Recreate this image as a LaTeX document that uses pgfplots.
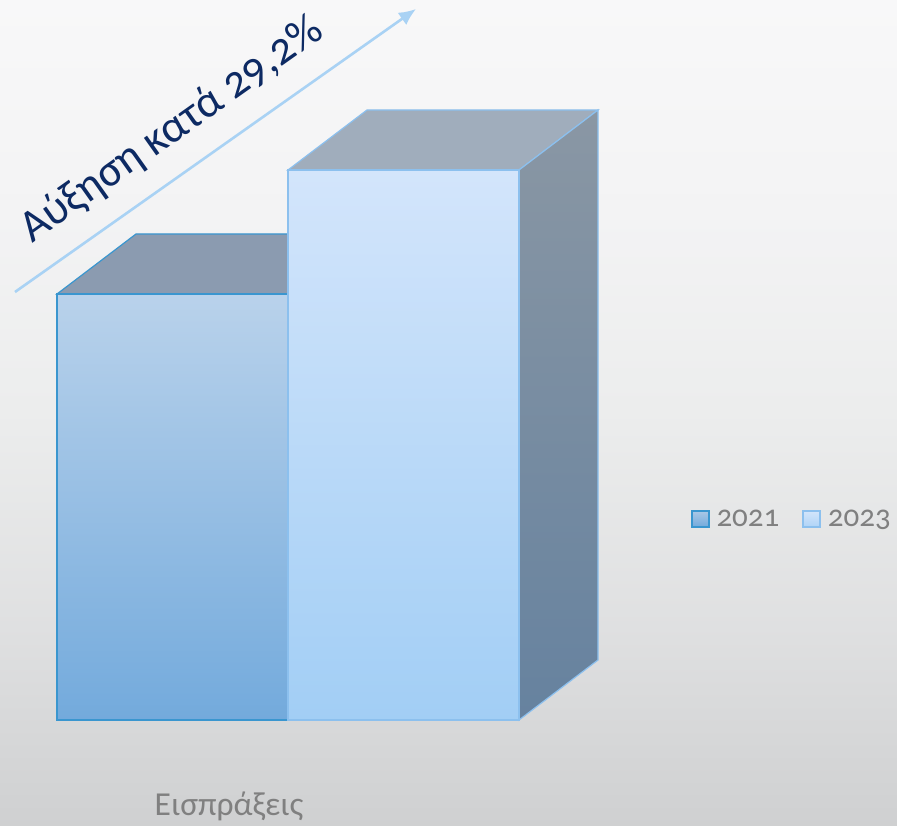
\documentclass[border=0pt]{standalone}
\usepackage{fontspec}
\setmainfont[Numbers=OldStyle]{Carlito}
\usepackage{pgfplots}
\pgfplotsset{compat=1.18}
\usetikzlibrary{arrows.meta}
\definecolor{edgeA}{HTML}{3A96CF}
\definecolor{edgeB}{HTML}{8CC0EE}
\definecolor{txtgrey}{HTML}{808080}
\definecolor{navy}{HTML}{0D2A63}
\definecolor{arrowblue}{HTML}{A9D2F4}
\pgfdeclareverticalshading{bgshade}{100bp}{
  rgb(0bp)=(0.812,0.816,0.820);
  rgb(25bp)=(0.812,0.816,0.820);
  rgb(37bp)=(0.875,0.878,0.882);
  rgb(50bp)=(0.925,0.929,0.929);
  rgb(62bp)=(0.953,0.953,0.957);
  rgb(75bp)=(0.973,0.973,0.976);
  rgb(100bp)=(0.973,0.973,0.976)}
\begin{document}
\begin{tikzpicture}
\begin{axis}[
  hide axis, scale only axis, width=897pt, height=825pt,
  xmin=0, xmax=897, ymin=-105, ymax=720, clip=false,
  legend columns=2,
  legend style={at={(axis cs:691,201)}, anchor=west, draw=none, fill=none,
    font=\fontsize{31}{33}\selectfont\color{txtgrey},
    /tikz/every even column/.append style={column sep=21pt},
    /tikz/every odd column/.append style={column sep=5pt},
    inner sep=0pt, outer sep=0pt},
  legend cell align=left,
]
% background
\path[shading=bgshade] (axis cs:0,-105) rectangle (axis cs:897,720);

% 2021 bar: value 426, 2023 bar: value 550 (pixel units above baseline)
\addplot[forget plot, draw=edgeA, line width=1.2pt, fill={rgb,255:red,139;green,155;blue,176}]
  coordinates {(57,426) (136,486) (320,486) (288,426)} -- cycle;
\addplot[forget plot, draw=edgeA, line width=1.6pt, top color={rgb,255:red,185;green,210;blue,235},
  bottom color={rgb,255:red,115;green,170;blue,220}]
  coordinates {(57,0) (57,426) (288,426) (288,0)} -- cycle;

\addplot[forget plot, draw=edgeB, line width=1.2pt, fill={rgb,255:red,160;green,173;blue,188}]
  coordinates {(288,550) (367,610) (598,610) (519,550)} -- cycle;
\addplot[forget plot, draw=edgeB, line width=1.2pt, top color={rgb,255:red,138;green,151;blue,164},
  bottom color={rgb,255:red,102;green,130;blue,159}]
  coordinates {(519,0) (519,550) (598,610) (598,60)} -- cycle;
\addplot[forget plot, draw=edgeB, line width=1.6pt, top color={rgb,255:red,211;green,229;blue,251},
  bottom color={rgb,255:red,162;green,206;blue,245}]
  coordinates {(288,0) (288,550) (519,550) (519,0)} -- cycle;

% legend
\addlegendimage{legend image code/.code={
  \draw[draw=edgeA, line width=1.5pt, top color={rgb,255:red,170;green,200;blue,230},
    bottom color={rgb,255:red,115;green,170;blue,220}] (0pt,-8pt) rectangle (17pt,8pt);}}
\addlegendentry{2021}
\addlegendimage{legend image code/.code={
  \draw[draw=edgeB, line width=1.5pt, top color={rgb,255:red,211;green,229;blue,251},
    bottom color={rgb,255:red,175;green,212;blue,247}] (0pt,-8pt) rectangle (17pt,8pt);}}
\addlegendentry{2023}

% annotation
\draw[arrowblue, line width=2.6pt, -{Latex[length=17pt,width=15pt]}]
  (axis cs:15,428) -- (axis cs:416,711);
\node[rotate=35.3, text=navy, font=\fontsize{45}{50}\selectfont, anchor=center]
  at (axis cs:172,590) {Αύξηση κατά 29,2\%};
\node[text=txtgrey, font=\fontsize{33.5}{36}\selectfont, anchor=center]
  at (axis cs:229,-86) {Εισπράξεις};
\end{axis}
\end{tikzpicture}
\end{document}
